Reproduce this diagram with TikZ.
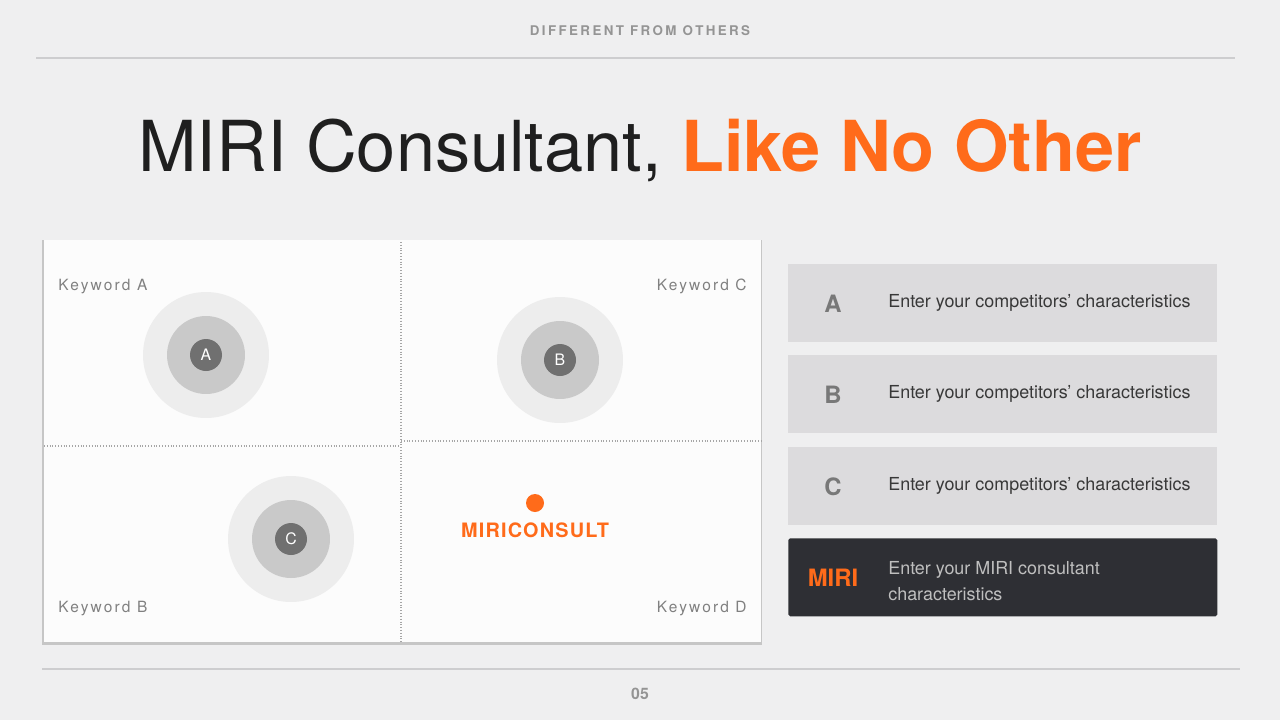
\documentclass[tikz,border=0pt]{standalone}
\usepackage{fontspec}
\setmainfont{TeX Gyre Heros}
\newfontfamily\spacedfont[LetterSpace=18]{TeX Gyre Heros}
\newfontfamily\brandfont[LetterSpace=6]{TeX Gyre Heros}
\newfontfamily\keyfont[LetterSpace=14]{TeX Gyre Heros}
\usetikzlibrary{positioning}
\definecolor{bgColor}{RGB}{239,239,240}
\definecolor{miriOrange}{RGB}{255,107,26}
\definecolor{darkBox}{RGB}{46,47,52}
\definecolor{lightBox}{RGB}{220,219,221}
\definecolor{panelWhite}{RGB}{252,252,252}
\definecolor{ruleColor}{RGB}{205,205,207}
\tikzset{
    rule/.style={ruleColor, line width=0.6pt},
    dotline/.style={gray!70, line width=0.7pt, dash pattern=on 0.5pt off 1.1pt},
    ringout/.style={circle, fill=black!7, minimum size=2.52cm, inner sep=0pt},
    ringmid/.style={circle, fill=black!21, minimum size=1.56cm, inner sep=0pt},
    ringin/.style={circle, fill=black!56, minimum size=0.64cm, inner sep=0pt,
        text=white, font=\fontsize{9}{10}\selectfont},
    keyword/.style={black!50, inner sep=0pt, font=\keyfont\fontsize{8.8}{10}\selectfont},
    rowbox/.style={fill=lightBox, minimum width=8.58cm, minimum height=1.56cm,
        anchor=north west, inner sep=0pt},
    rowletter/.style={text=black!53, inner sep=0pt,
        font=\bfseries\fontsize{13.6}{15}\selectfont},
    rowtext/.style={text=black!78, inner sep=0pt, align=left,
        font=\fontsize{10.2}{14.7}\selectfont}
}

\begin{document}
\begin{tikzpicture}[x=0.02cm, y=-0.02cm]
    \fill[bgColor] (0,0) rectangle (1280,720);
    \useasboundingbox (0,0) rectangle (1280,720);

    % header
    \node[text=black!42, font=\spacedfont\bfseries\fontsize{7.6}{9}\selectfont] (head) at (640,31) {DIFFERENT FROM OTHERS};
    \draw[rule] (36,58) -- (1235,58);
    \node[anchor=base, text=black!88, font=\fontsize{40}{46}\selectfont] (title) at (640,171)
        {MIRI Consultant, \textcolor{miriOrange}{\bfseries Like No Other}};

    % map panel
    \fill[gray!45] (42,240) rectangle (762,645);
    \fill[panelWhite] (44,240) rectangle (761,642);
    \draw[dotline] (401,242) -- (401,642);
    \draw[dotline] (44,446) -- (401,446);
    \draw[dotline] (401,441) -- (761,441);

    \node[keyword, anchor=base west] (kwA) at (58,290) {Keyword A};
    \node[keyword, anchor=base east] (kwC) at (747,290) {Keyword C};
    \node[keyword, anchor=base west] (kwB) at (58,612) {Keyword B};
    \node[keyword, anchor=base east] (kwD) at (747,612) {Keyword D};

    \node[ringout] (outA) at (206,355) {};
    \node[ringmid] (midA) at (outA) {};
    \node[ringin] (inA) at (outA) {A};

    \node[ringout] (outB) at (560,360) {};
    \node[ringmid] (midB) at (outB) {};
    \node[ringin] (inB) at (outB) {B};

    \node[ringout] (outC) at (291,539) {};
    \node[ringmid] (midC) at (outC) {};
    \node[ringin] (inC) at (outC) {C};

    % our position
    \node[circle, fill=miriOrange, minimum size=0.36cm, inner sep=0pt] (dot) at (535,503) {};
    \node[below=0.2cm of dot, inner sep=0pt, text=miriOrange,
        font=\brandfont\bfseries\fontsize{11.3}{13}\selectfont] (miri) {MIRICONSULT};

    % competitor rows
    \node[rowbox] (rowA) at (788,264) {};
    \node[rowletter, right=0.9cm of rowA.west, anchor=center] (letA) {A};
    \node[rowtext, right=2cm of rowA.west] (txtA) {Enter your competitors' characteristics};

    \node[rowbox] (rowB) at (788,355) {};
    \node[rowletter, right=0.9cm of rowB.west, anchor=center] (letB) {B};
    \node[rowtext, right=2cm of rowB.west] (txtB) {Enter your competitors' characteristics};

    \node[rowbox] (rowC) at (788,447) {};
    \node[rowletter, right=0.9cm of rowC.west, anchor=center] (letC) {C};
    \node[rowtext, right=2cm of rowC.west] (txtC) {Enter your competitors' characteristics};

    \node[rowbox, fill=darkBox, rounded corners=1pt] (rowM) at (788,538) {};
    \node[rowletter, text=miriOrange, right=0.9cm of rowM.west, anchor=center] (letM) {MIRI};
    \node[rowtext, text=black!25, right=2cm of rowM.west, yshift=-0.07cm] (txtM) {Enter your MIRI consultant\\characteristics};

    % footer
    \draw[rule] (42,669) -- (1240,669);
    \node[text=black!42, font=\bfseries\fontsize{9}{10}\selectfont] (page) at (640,694) {05};
\end{tikzpicture}
\end{document}
